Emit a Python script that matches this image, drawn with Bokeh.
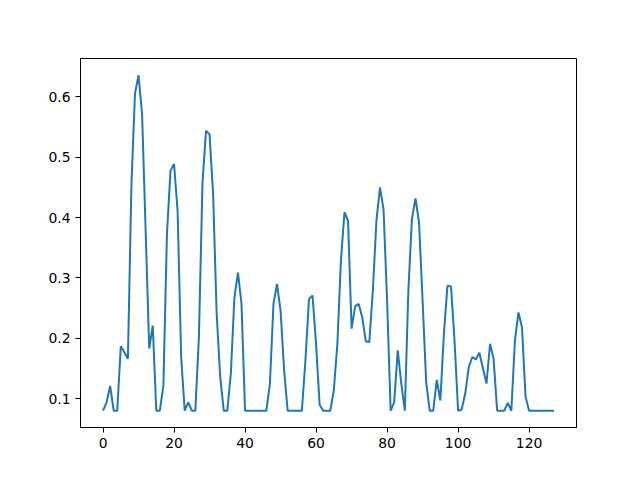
from bokeh.plotting import figure
from bokeh.models import FixedTicker, Range1d
from bokeh.embed import file_html
from bokeh.resources import INLINE

x_values = list(range(128))
y_values = [
    0.080, 0.094, 0.121, 0.080, 0.080, 0.187, 0.177, 0.166, 0.456, 0.606,
    0.636, 0.571, 0.378, 0.183, 0.221, 0.080, 0.080, 0.122, 0.373, 0.478,
    0.489, 0.411, 0.169, 0.080, 0.094, 0.080, 0.080, 0.202, 0.456, 0.544,
    0.538, 0.439, 0.241, 0.136, 0.080, 0.080, 0.142, 0.268, 0.309, 0.257,
    0.080, 0.080, 0.080, 0.080, 0.080, 0.080, 0.080, 0.125, 0.257, 0.290,
    0.246, 0.147, 0.080, 0.080, 0.080, 0.080, 0.080, 0.163, 0.265, 0.271,
    0.190, 0.090, 0.080, 0.080, 0.080, 0.114, 0.191, 0.329, 0.409, 0.395,
    0.216, 0.253, 0.257, 0.235, 0.195, 0.194, 0.280, 0.395, 0.450, 0.414,
    0.263, 0.080, 0.094, 0.180, 0.125, 0.080, 0.280, 0.398, 0.432, 0.392,
    0.263, 0.128, 0.080, 0.080, 0.131, 0.097, 0.207, 0.287, 0.286, 0.196,
    0.080, 0.082, 0.108, 0.152, 0.169, 0.165, 0.176, 0.150, 0.125, 0.191,
    0.166, 0.080, 0.080, 0.080, 0.093, 0.080, 0.196, 0.243, 0.218, 0.103,
    0.080, 0.080, 0.080, 0.080, 0.080, 0.080, 0.080, 0.080,
]
x_ticks = [0, 20, 40, 60, 80, 100, 120]
y_ticks = [0.1, 0.2, 0.3, 0.4, 0.5, 0.6]

xmin, xmax = min(x_values), max(x_values)
ymin, ymax = min(y_values), max(y_values)
xm = 0.05 * (xmax - xmin)
ym = 0.05 * (ymax - ymin)

p = figure(
    width=624, height=464,
    output_backend="svg", toolbar_location=None,
    x_range=Range1d(xmin - xm, xmax + xm),
    y_range=Range1d(ymin - ym, ymax + ym),
    min_border_left=80, min_border_right=48,
    min_border_top=58, min_border_bottom=37,
)
p.line(x_values, y_values, line_color="#1f77b4", line_width=2)

p.grid.visible = False
p.outline_line_color = "black"
p.outline_line_width = 1
p.background_fill_color = "white"
p.border_fill_color = "white"

for ax, ticks in ((p.xaxis[0], x_ticks), (p.yaxis[0], y_ticks)):
    ax.ticker = FixedTicker(ticks=ticks)
    ax.axis_line_color = "black"
    ax.axis_line_width = 1
    ax.major_tick_line_color = "black"
    ax.major_tick_out = 5
    ax.major_tick_in = 0
    ax.minor_tick_line_color = None
    ax.major_label_text_font = "DejaVu Sans"
    ax.major_label_text_font_size = "13.9px"
    ax.major_label_text_color = "black"
    ax.major_label_standoff = 5

open("out.html", "w").write(file_html(p, INLINE))
